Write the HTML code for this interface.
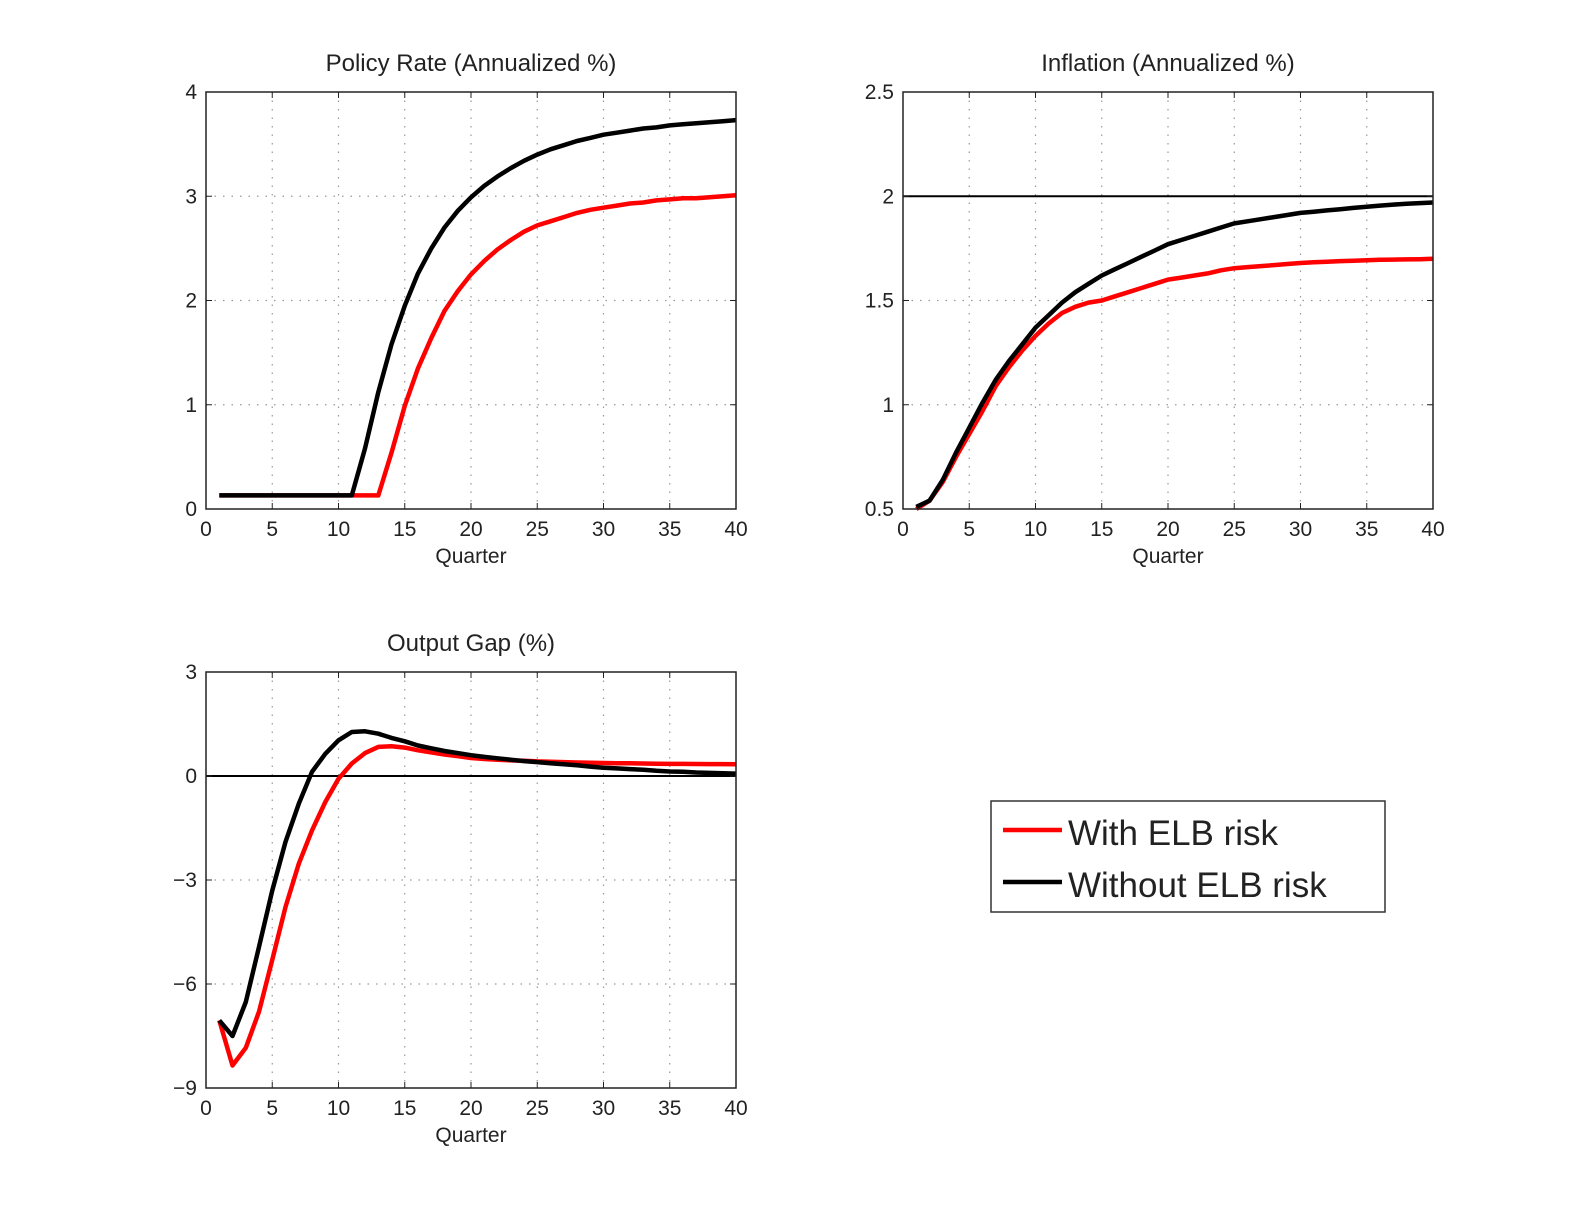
<!DOCTYPE html>
<html><head><meta charset="utf-8"><style>
html,body{margin:0;padding:0;background:#fff;}
svg{display:block;font-family:"Liberation Sans",sans-serif;}
</style></head><body>
<svg id="fig" width="1584" height="1224" viewBox="0 0 1584 1224" xmlns="http://www.w3.org/2000/svg"></svg>
<script>
const quarters = Array.from({length:40},(_,i)=>i+1);
const policyWith = [0.13,0.13,0.13,0.13,0.13,0.13,0.13,0.13,0.13,0.13,0.13,0.13,0.13,0.54,0.99,1.35,1.64,1.90,2.09,2.25,2.38,2.49,2.58,2.66,2.72,2.76,2.80,2.84,2.87,2.89,2.91,2.93,2.94,2.96,2.97,2.98,2.98,2.99,3.00,3.01];
const policyWithout = [0.13,0.13,0.13,0.13,0.13,0.13,0.13,0.13,0.13,0.13,0.13,0.58,1.12,1.58,1.95,2.26,2.50,2.70,2.86,2.99,3.10,3.19,3.27,3.34,3.40,3.45,3.49,3.53,3.56,3.59,3.61,3.63,3.65,3.66,3.68,3.69,3.70,3.71,3.72,3.73];
const inflWith = [0.50,0.54,0.63,0.75,0.86,0.97,1.09,1.18,1.26,1.33,1.39,1.44,1.47,1.49,1.50,1.52,1.54,1.56,1.58,1.60,1.61,1.62,1.63,1.645,1.655,1.66,1.665,1.67,1.675,1.68,1.683,1.686,1.689,1.691,1.693,1.695,1.696,1.697,1.698,1.70];
const inflWithout = [0.51,0.54,0.64,0.77,0.89,1.01,1.12,1.21,1.29,1.37,1.43,1.49,1.54,1.58,1.62,1.65,1.68,1.71,1.74,1.77,1.79,1.81,1.83,1.85,1.87,1.88,1.89,1.90,1.91,1.92,1.926,1.932,1.938,1.944,1.95,1.955,1.96,1.964,1.967,1.97];
const gapWith = [-7.05,-8.35,-7.84,-6.8,-5.3,-3.78,-2.53,-1.57,-0.75,-0.08,0.36,0.66,0.84,0.86,0.82,0.74,0.68,0.62,0.57,0.52,0.49,0.47,0.45,0.44,0.42,0.41,0.40,0.39,0.38,0.375,0.37,0.365,0.36,0.355,0.35,0.348,0.346,0.344,0.342,0.34];
const gapWithout = [-7.05,-7.5,-6.52,-4.93,-3.3,-1.9,-0.8,0.12,0.64,1.03,1.27,1.29,1.22,1.10,1.00,0.88,0.80,0.72,0.66,0.60,0.55,0.51,0.47,0.43,0.40,0.37,0.34,0.31,0.27,0.24,0.22,0.20,0.18,0.15,0.13,0.12,0.10,0.09,0.08,0.07];
const xTicks = [0,5,10,15,20,25,30,35,40];
const policyTicks = [0,1,2,3,4];
const inflTicks = [0.5,1,1.5,2,2.5];
const inflTickLabels = ["0.5","1","1.5","2","2.5"];
const gapTicks = [-9,-6,-3,0,3];
const gapTickLabels = ["\u22129","\u22126","\u22123","0","3"];

const NS="http://www.w3.org/2000/svg";
const svg=document.getElementById('fig');
function mk(tag,attrs,parent){const e=document.createElementNS(NS,tag);for(const k in attrs)e.setAttribute(k,attrs[k]);(parent||svg).appendChild(e);return e;}

function panel(name,box,yMin,yMax,yTicks,yLabels,title,refLine,series){
  const g=mk('g',{});
  
  
  const sx=v=>box.x+(v-0)/40*box.w;
  const sy=v=>box.y+box.h-(v-yMin)/(yMax-yMin)*box.h;
  xTicks.forEach(t=>{ if(t>0&&t<40){const l=mk('line',{x1:sx(t),x2:sx(t),y1:box.y,y2:box.y+box.h,stroke:'#999','stroke-width':1.2,'stroke-dasharray':'1.5 7'},g);
    
    }});
  yTicks.forEach(t=>{ if(t>yMin&&t<yMax){const l=mk('line',{x1:box.x,x2:box.x+box.w,y1:sy(t),y2:sy(t),stroke:'#999','stroke-width':1.2,'stroke-dasharray':'1.5 7'},g);
    
    }});
  if(refLine!==null){const l=mk('line',{x1:box.x,x2:box.x+box.w,y1:sy(refLine),y2:sy(refLine),stroke:'#000','stroke-width':2},g);
    
    }
  xTicks.forEach(t=>{mk('line',{x1:sx(t),x2:sx(t),y1:box.y+box.h,y2:box.y+box.h-6,stroke:'#222','stroke-width':1},g);mk('line',{x1:sx(t),x2:sx(t),y1:box.y,y2:box.y+6,stroke:'#222','stroke-width':1},g);
    const tx=mk('text',{x:sx(t),y:box.y+box.h+27,'text-anchor':'middle','font-size':21,fill:'#222'},g);tx.textContent=String(t);
    
    });
  yTicks.forEach((t,i)=>{mk('line',{x1:box.x,x2:box.x+6,y1:sy(t),y2:sy(t),stroke:'#222','stroke-width':1},g);mk('line',{x1:box.x+box.w,x2:box.x+box.w-6,y1:sy(t),y2:sy(t),stroke:'#222','stroke-width':1},g);
    const tx=mk('text',{x:box.x-9,y:sy(t)+7,'text-anchor':'end','font-size':21,fill:'#222'},g);tx.textContent=yLabels[i];
    
    });
  series.forEach(s=>{const d=quarters.map((q,i)=>(i?'L':'M')+sx(q).toFixed(1)+' '+sy(s.v[i]).toFixed(1)).join(' ');
    const p=mk('path',{d:d,fill:'none',stroke:s.c,'stroke-width':4.5,'stroke-linejoin':'round'},g);
    
    });
  const fr=mk('rect',{x:box.x,y:box.y,width:box.w,height:box.h,fill:'none',stroke:'#222','stroke-width':1.5},g);
  
  
  const ti=mk('text',{x:box.x+box.w/2,y:box.y-21,'text-anchor':'middle','font-size':24,fill:'#222'},g);ti.textContent=title;
  
  
  const xl=mk('text',{x:box.x+box.w/2,y:box.y+box.h+54,'text-anchor':'middle','font-size':21,fill:'#222'},g);xl.textContent='Quarter';
  
  
}
panel('policy-rate',{x:206,y:92,w:530,h:417},0,4,policyTicks,policyTicks.map(String),'Policy Rate (Annualized %)',null,
  [{v:policyWith,c:'#ff0000',n:'policy-with-elb-line'},{v:policyWithout,c:'#000',n:'policy-without-elb-line'}]);
panel('inflation',{x:903,y:92,w:530,h:417},0.5,2.5,inflTicks,inflTickLabels,'Inflation (Annualized %)',2,
  [{v:inflWith,c:'#ff0000',n:'inflation-with-elb-line'},{v:inflWithout,c:'#000',n:'inflation-without-elb-line'}]);
panel('output-gap',{x:206,y:672,w:530,h:416},-9,3,gapTicks,gapTickLabels,'Output Gap (%)',0,
  [{v:gapWith,c:'#ff0000',n:'gap-with-elb-line'},{v:gapWithout,c:'#000',n:'gap-without-elb-line'}]);

const lg=mk('g',{});


mk('rect',{x:991,y:801,width:394,height:111,fill:'#fff',stroke:'#333','stroke-width':1.5},lg);
mk('line',{x1:1003,x2:1062,y1:830,y2:830,stroke:'#ff0000','stroke-width':4.5},lg);
mk('line',{x1:1003,x2:1062,y1:882,y2:882,stroke:'#000','stroke-width':4.5},lg);
const t1=mk('text',{x:1068,y:845,'font-size':35,fill:'#222'},lg);t1.textContent='With ELB risk';


const t2=mk('text',{x:1068,y:897,'font-size':35,fill:'#222'},lg);t2.textContent='Without ELB risk';


</script>
</body></html>
